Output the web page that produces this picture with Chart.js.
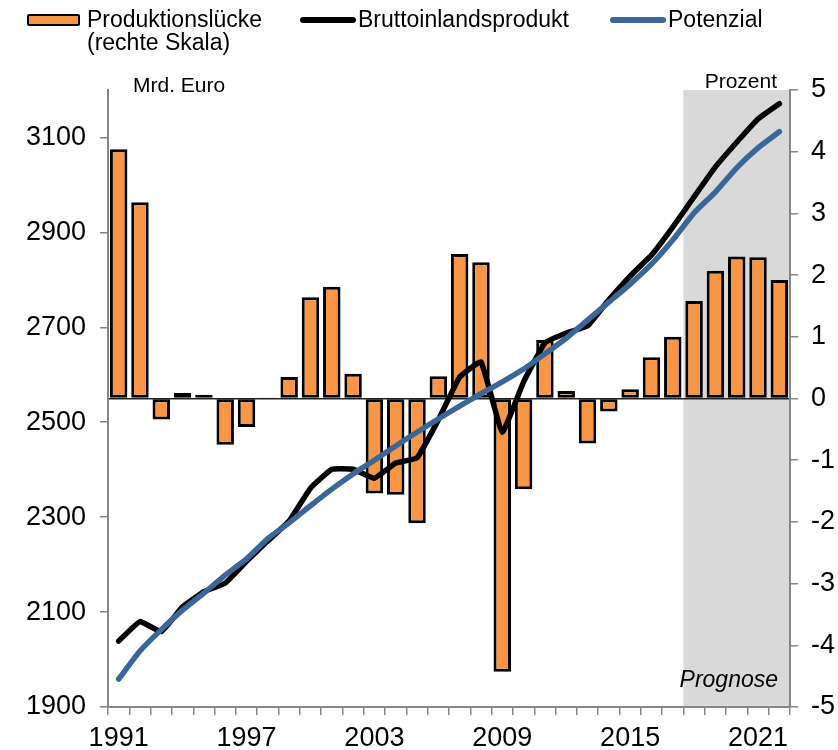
<!DOCTYPE html>
<html>
<head>
<meta charset="utf-8">
<script src="https://cdn.jsdelivr.net/npm/chart.js@4.4.1/dist/chart.umd.min.js"></script>
<style>
    html, body { margin: 0; padding: 0; background: #fff; }
    #wrap { position: relative; width: 838px; height: 750px; font-family: "Liberation Sans", Arial, sans-serif; color: #000; }
    #chart { position: absolute; left: 0; top: 0; }
    .lg { position: absolute; font-size: 23px; line-height: 23px; white-space: nowrap; }
    .sw { position: absolute; box-sizing: border-box; }
</style>
</head>
<body>
<div id="wrap">
    <canvas id="chart" width="838" height="750"></canvas>
    <div class="sw" style="left:27px;top:14px;width:53px;height:12px;background:#f79646;border:2.5px solid #000;border-radius:2px;"></div>
    <div class="lg" style="left:87px;top:8px;">Produktionslücke<br>(rechte Skala)</div>
    <div class="sw" style="left:300px;top:17px;width:56px;height:6px;background:#000;border-radius:3px;"></div>
    <div class="lg" style="left:358px;top:8px;">Bruttoinlandsprodukt</div>
    <div class="sw" style="left:610px;top:17px;width:56px;height:6px;background:#3c6698;border-radius:3px;"></div>
    <div class="lg" style="left:668px;top:8px;">Potenzial</div>
</div>
<script>
    const years = [];
    for (let y = 1991; y <= 2022; y++) years.push(String(y));

    const gapPct = [4.04, 3.18, -0.34, 0.09, 0.06, -0.75, -0.46, 0.01, 0.35, 1.64, 1.81, 0.40,
                    -1.54, -1.56, -2.02, 0.36, 2.34, 2.21, -4.43, -1.47, 0.95, 0.12, -0.73, -0.21,
                    0.15, 0.67, 1.00, 1.58, 2.07, 2.30, 2.29, 1.92];
    const gdp = [2039, 2080, 2059, 2111, 2143, 2161, 2207, 2250, 2292, 2361, 2401, 2401,
                 2382, 2414, 2425, 2505, 2595, 2627, 2479, 2585, 2667, 2688, 2703, 2758,
                 2808, 2852, 2911, 2975, 3038, 3090, 3139, 3171];
    const potential = [1959, 2018, 2063, 2104, 2140, 2178, 2212, 2255, 2288, 2324, 2359, 2391,
                       2420, 2450, 2479, 2507, 2534, 2560, 2585, 2612, 2644, 2677, 2715, 2753,
                       2791, 2833, 2884, 2941, 2985, 3036, 3078, 3112];
    const leftTicks = [1900, 2100, 2300, 2500, 2700, 2900, 3100];
    const rightTicks = [-5, -4, -3, -2, -1, 0, 1, 2, 3, 4, 5];
    const shownYears = ['1991', '1997', '2003', '2009', '2015', '2021'];
    const forecastFrom = '2018';

    const axisGrey = '#868686';
    const family = '"Liberation Sans", Arial, sans-serif';
    const font = { family, size: 27 };

    const overlay = {
        id: 'overlay',
        beforeDraw(chart) {
            const { ctx, chartArea, scales } = chart;
            const i = years.indexOf(forecastFrom);
            const x0 = (scales.x.getPixelForValue(i - 1) + scales.x.getPixelForValue(i)) / 2;
            ctx.save();
            ctx.fillStyle = '#d9d9d9';
            ctx.fillRect(x0, chartArea.top, chartArea.right - x0, chartArea.bottom - chartArea.top);
            ctx.restore();
        },
        afterDraw(chart) {
            const { ctx, chartArea } = chart;
            ctx.save();
            ctx.fillStyle = '#000';
            ctx.font = `21px ${family}`;
            ctx.textBaseline = 'alphabetic';
            ctx.textAlign = 'left';
            ctx.fillText('Mrd. Euro', 133, 92);
            ctx.textAlign = 'right';
            ctx.fillText('Prozent', 777, 87.5);
            ctx.font = `italic 23px ${family}`;
            ctx.fillText('Prognose', chartArea.right - 12, chartArea.bottom - 20);
            ctx.restore();
        }
    };

    new Chart(document.getElementById('chart'), {
        type: 'bar',
        data: {
            labels: years,
            datasets: [
                {
                    type: 'line',
                    label: 'Potenzial',
                    data: potential,
                    yAxisID: 'yL',
                    borderColor: '#3c6698',
                    borderWidth: 5.5,
                    pointRadius: 0,
                    tension: 0.15,
                    borderCapStyle: 'round',
                    borderJoinStyle: 'round',
                    order: 1,
                },
                {
                    type: 'line',
                    label: 'Bruttoinlandsprodukt',
                    data: gdp,
                    yAxisID: 'yL',
                    borderColor: '#000',
                    borderWidth: 5.5,
                    pointRadius: 0,
                    tension: 0.1,
                    borderCapStyle: 'round',
                    borderJoinStyle: 'round',
                    order: 2,
                },
                {
                    label: 'Produktionslücke',
                    data: gapPct,
                    yAxisID: 'yR',
                    backgroundColor: '#f79646',
                    borderColor: '#000',
                    borderWidth: 3,
                    borderSkipped: false,
                    barPercentage: 0.82,
                    categoryPercentage: 1,
                    order: 3,
                },
            ]
        },
        options: {
            responsive: false,
            animation: false,
            devicePixelRatio: 1,
            layout: { padding: { top: 90, left: 0, right: 0, bottom: 0 } },
            plugins: {
                legend: { display: false },
                tooltip: { enabled: false },
            },
            scales: {
                x: {
                    offset: true,
                    grid: {
                        offset: true,
                        drawOnChartArea: false,
                        color: axisGrey,
                        lineWidth: 1.5,
                        tickLength: 8,
                    },
                    border: { color: axisGrey, width: 2 },
                    ticks: {
                        color: '#000',
                        font,
                        padding: 7,
                        autoSkip: false,
                        maxRotation: 0,
                        callback(v) {
                            const l = this.getLabelForValue(v);
                            return shownYears.includes(l) ? l : '';
                        }
                    },
                    afterFit(s) { s.height = 43; }
                },
                yL: {
                    position: 'left',
                    min: 1900,
                    max: 3200,
                    grid: { drawOnChartArea: false, color: axisGrey, lineWidth: 1.5, tickLength: 8 },
                    border: { color: axisGrey, width: 2 },
                    ticks: { color: '#000', font, padding: 14, callback: v => String(v) },
                    afterBuildTicks(s) { s.ticks = leftTicks.map(v => ({ value: v })); },
                    afterFit(s) { s.width = 108; }
                },
                yR: {
                    position: 'right',
                    min: -5,
                    max: 5,
                    grid: {
                        drawOnChartArea: true,
                        color: c => c.tick && c.tick.value === 0 ? '#222' : 'rgba(0,0,0,0)',
                        lineWidth: 1.5,
                        tickColor: axisGrey,
                        tickWidth: 1.5,
                        tickLength: 8,
                    },
                    border: { color: axisGrey, width: 2 },
                    ticks: { color: '#000', font, padding: 13, callback: v => String(v) },
                    afterBuildTicks(s) { s.ticks = rightTicks.map(v => ({ value: v })); },
                    afterFit(s) { s.width = 48; }
                }
            }
        },
        plugins: [overlay]
    });
</script>
</body>
</html>
